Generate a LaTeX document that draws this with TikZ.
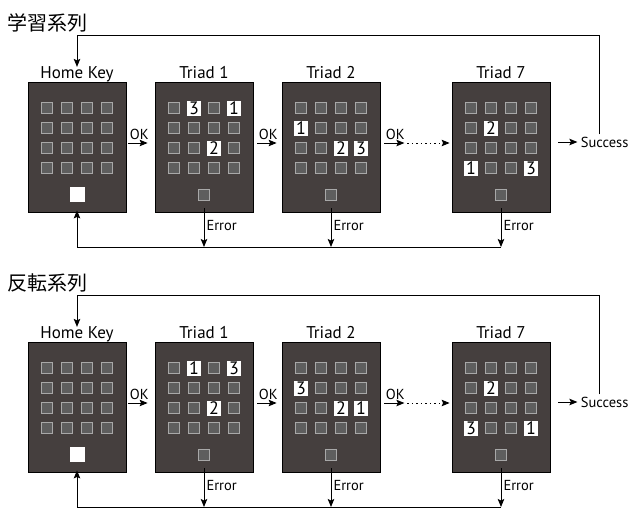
\documentclass[tikz,border=0pt]{standalone}
\usepackage{fontspec}
\setmainfont{PT Sans}
\newfontfamily\cjk{Noto Sans CJK JP}
\usetikzlibrary{arrows.meta}
\definecolor{panelfill}{HTML}{453F3E}
\definecolor{keyfill}{HTML}{5E5E5E}
\definecolor{keyline}{HTML}{A8A8A8}
\tikzset{
  panel/.style={draw=black,line width=0.8pt,fill=panelfill,minimum width=98pt,minimum height=130pt,inner sep=0pt},
  plabel/.style={anchor=base,font=\fontsize{17}{17}\selectfont,inner sep=1pt},
  key/.style={draw=keyline,fill=keyfill,line width=1.2pt,minimum size=10.5pt,inner sep=0pt},
  numkey/.style={fill=white,minimum width=13.5pt,minimum height=15pt,inner sep=0pt,font=\fontsize{18}{18}\selectfont},
  homekey/.style={fill=white,minimum size=15pt,inner sep=0pt},
  tip/.style={-{Stealth[length=8pt,width=6.5pt,inset=1.5pt]}},
  arr/.style={line width=1pt,tip},
  conn/.style={line width=1pt},
  small/.style={font=\fontsize{14.5}{14.5}\selectfont,inner sep=1pt},
  title/.style={font=\cjk\fontsize{20}{20}\selectfont,inner sep=0pt}
}
\newcommand\mkpanel[3]{%
  \node[panel] (#1) at (#2,147) {};
  \node[plabel] (#1-l) at (#2,78) {#3};
  \foreach \c in {0,...,3} {\foreach \r in {0,...,3} {\node[key] (#1-\c\r) at ({#2-30+20*\c},{108+20*\r}) {};}}
}
\newcommand\mkseries[2]{% #1 prefix, #2 title
  \node[title] (#1-title) at (48,23) {#2};
  \mkpanel{#1h}{77}{Home Key}
  \node[homekey] (#1h-home) at (77.5,194) {};
  \mkpanel{#1a}{204}{Triad 1}
  \node[key] (#1a-b) at (204,195) {};
  \mkpanel{#1b}{331}{Triad 2}
  \node[key] (#1b-b) at (331,195) {};
  \mkpanel{#1c}{501}{Triad 7}
  \node[key] (#1c-b) at (501,195) {};
  % connectors
  \coordinate (#1-top) at (77,35);
  \coordinate (#1-bot) at (77,247);
  \draw[arr] ([shift={(2,-4)}]#1h.east) -- ([shift={(-7,-4)}]#1a.west)
     node[pos=0,anchor=south west,small,yshift=2pt] (#1-ok1) {OK};
  \draw[arr] ([shift={(4,-4)}]#1a.east) -- ([shift={(-5,-4)}]#1b.west)
     node[pos=0,anchor=south west,small,yshift=2pt] (#1-ok2) {OK};
  \draw[arr] ([shift={(4,-4)}]#1b.east) -- ++(20,0) coordinate (#1-mid)
     node[pos=0,anchor=south west,small,yshift=2pt] (#1-ok3) {OK};
  \draw[line width=1pt,dash pattern=on 1.5pt off 3pt,tip] ([xshift=3]#1-mid) -- ([shift={(-2,-4)}]#1c.west);
  \draw[arr] ([shift={(8,-5)}]#1c.east) -- ++(19,0) node[anchor=west,small,inner sep=3pt] (#1-succ) {Success};
  \draw[conn] ([xshift=-5,yshift=-1]#1-succ.north) |- (#1-top);
  \draw[arr] (#1-top) -- ([yshift=-2]#1h-l.north);
  \foreach \p in {a,b,c} {
    \draw[arr] ([yshift=4]#1\p.south) -- (#1\p.south |- #1-bot)
      node[pos=0.45,anchor=west,small,inner sep=2pt] {Error};
  }
  \draw[conn] (#1c.south |- #1-bot) -- (#1-bot);
  \draw[arr] (#1-bot) -- ([yshift=2]#1h.south);
}
\begin{document}
\begin{tikzpicture}[x=1pt,y=-1pt]
\useasboundingbox (0,0) rectangle (630,509);
\mkseries{s}{学習系列}
\node[numkey] at (sa-10) {3};
\node[numkey] at (sa-30) {1};
\node[numkey] at (sa-22) {2};
\node[numkey] at (sb-01) {1};
\node[numkey] at (sb-22) {2};
\node[numkey] at (sb-32) {3};
\node[numkey] at (sc-11) {2};
\node[numkey] at (sc-03) {1};
\node[numkey] at (sc-33) {3};
\begin{scope}[shift={(0,260)}]
\mkseries{r}{反転系列}
\node[numkey] at (ra-10) {1};
\node[numkey] at (ra-30) {3};
\node[numkey] at (ra-22) {2};
\node[numkey] at (rb-01) {3};
\node[numkey] at (rb-22) {2};
\node[numkey] at (rb-32) {1};
\node[numkey] at (rc-11) {2};
\node[numkey] at (rc-03) {3};
\node[numkey] at (rc-33) {1};
\end{scope}
\end{tikzpicture}
\end{document}
